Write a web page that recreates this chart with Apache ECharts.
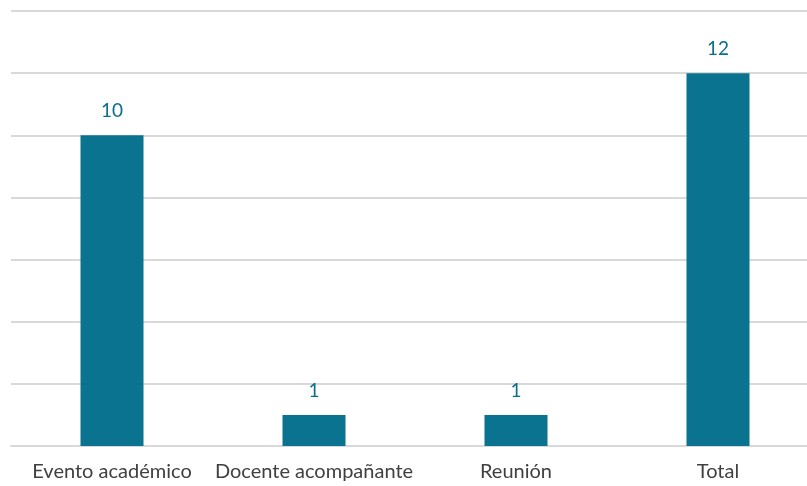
<!DOCTYPE html>
<html>
<head>
<meta charset="utf-8">
<script src="https://cdn.jsdelivr.net/npm/echarts@6/dist/echarts.min.js"></script>
<style>html,body{margin:0;padding:0;background:#fff;overflow:hidden;width:807px;height:486px}#c{width:820px;height:486px}</style>
</head>
<body>
<div id="c"></div>
<script>
var categories = ["Evento académico", "Docente acompañante", "Reunión", "Total"];
var values = [10, 1, 1, 12];
var yMin = 0, yMax = 14, yInterval = 2;

var chart = echarts.init(document.getElementById('c'), null, {renderer: 'canvas'});
chart.setOption({
  animation: false,
  grid: {left: 11, right: 1, top: 11, bottom: 40, containLabel: false},
  xAxis: {
    type: 'category',
    data: categories,
    axisLine: {show: true, lineStyle: {color: '#d9d9d9', width: 2}},
    axisTick: {show: false},
    axisLabel: {interval: 0, color: '#404040', fontSize: 20, fontFamily: 'Lato', margin: 16}
  },
  yAxis: {
    type: 'value', min: yMin, max: yMax, interval: yInterval,
    axisLabel: {show: false},
    axisLine: {show: false}, axisTick: {show: false},
    splitLine: {lineStyle: {color: '#d9d9d9', width: 2}}
  },
  series: [{
    type: 'bar',
    data: values,
    barWidth: 63,
    itemStyle: {color: '#0a738f'},
    label: {show: true, position: 'top', distance: 15, color: '#0a6f8c', fontSize: 19, fontFamily: 'Lato'}
  }]
});
</script>
</body>
</html>
